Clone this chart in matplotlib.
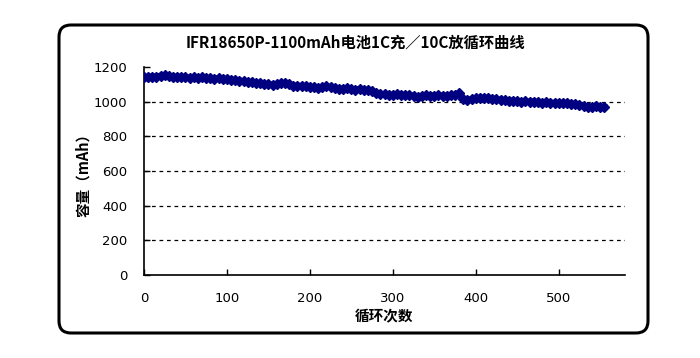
import numpy as np
import matplotlib
matplotlib.use('Agg')
import matplotlib.pyplot as plt
from matplotlib.patches import FancyBboxPatch
from matplotlib.transforms import IdentityTransform

plt.rcParams['font.family'] = ['Noto Sans CJK SC', 'DejaVu Sans']

# cycle number (every 5 cycles) and capacity
cycles = list(range(0, 560, 5))
capacity = [1140, 1142, 1145, 1143, 1150, 1152, 1146, 1144, 1141, 1143,
            1140, 1138, 1142, 1139, 1141, 1137, 1135, 1133, 1136, 1131,
            1130, 1127, 1125, 1122, 1118, 1114, 1112, 1108, 1106, 1103,
            1100, 1098, 1102, 1106, 1108, 1100, 1093, 1090, 1092, 1088,
            1085, 1082, 1078, 1084, 1088, 1082, 1076, 1073, 1075, 1078,
            1074, 1070, 1072, 1068, 1066, 1060, 1052, 1045, 1042, 1040,
            1038, 1042, 1040, 1036, 1038, 1032, 1028, 1034, 1037, 1035,
            1034, 1036, 1033, 1035, 1038, 1040, 1050, 1018, 1008, 1016,
            1020, 1022, 1020, 1023, 1018, 1014, 1010, 1008, 1006, 1004,
            1002, 1000, 1002, 998, 1000, 997, 995, 996, 994, 992,
            993, 991, 990, 985, 988, 982, 975, 972, 970, 974,
            970, 968]
yticks = [0, 200, 400, 600, 800, 1000, 1200]
xticks = [0, 100, 200, 300, 400, 500]

title = 'IFR18650P-1100mAh电池1C充／10C放循环曲线'
xlabel = '循环次数'
ylabel = '容量（mAh）'

navy = '#000080'

fig = plt.figure(figsize=(7, 3.58), dpi=100)
ax = fig.add_axes([144/700, 83/358, 481/700, 208/358])

ax.plot(cycles, capacity, color=navy, lw=4.5, marker='D', ms=5, mec=navy, mfc=navy,
        solid_joinstyle='miter', zorder=3)

ax.set_xlim(0, 580)
ax.set_ylim(0, 1200)
ax.set_xticks(xticks)
ax.set_yticks(yticks)
ax.tick_params(direction='in', length=4, width=1, labelsize=9.5, color='black')
ax.tick_params(axis='x', pad=12)
ax.tick_params(axis='y', pad=12)
for t in ax.get_xticklabels() + ax.get_yticklabels():
    t.set_family('DejaVu Sans')

for y in yticks[1:-1]:
    ax.axhline(y, color='black', lw=0.9, ls=(0, (3, 3)), zorder=1)

ax.spines['top'].set_visible(False)
ax.spines['right'].set_visible(False)
ax.spines['left'].set_linewidth(1.2)
ax.spines['bottom'].set_linewidth(1.2)

ax.set_xlabel(xlabel, fontsize=10.5, fontweight='bold', labelpad=3)
ax.set_ylabel(ylabel, fontsize=10.5, fontweight='bold', labelpad=2)

fig.text(355/700, (358-43)/358, title, ha='center', va='center',
         fontsize=11, fontweight='bold')

box = FancyBboxPatch((59, 25), 589, 308, boxstyle='round,pad=0,rounding_size=12',
                     transform=IdentityTransform(), fill=False, ec='black', lw=2.2)
fig.patches.append(box)

fig.savefig('out.png', dpi=100)
